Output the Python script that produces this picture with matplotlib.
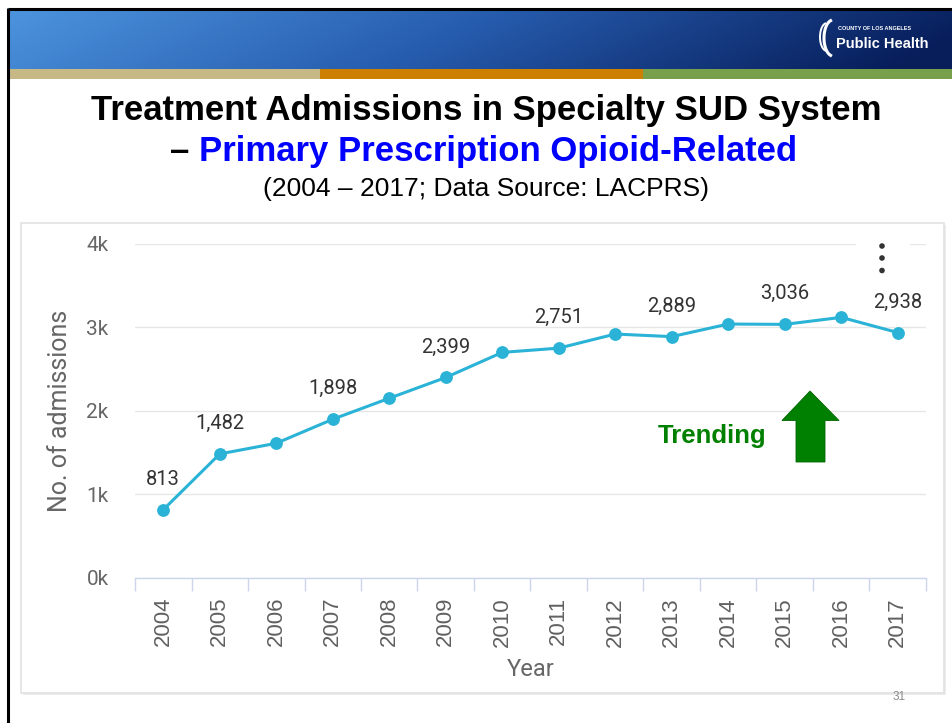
import numpy as np
import matplotlib
matplotlib.use("Agg")
import matplotlib.pyplot as plt
from matplotlib.patches import Rectangle, Polygon, Circle
from matplotlib.ticker import FixedLocator

# ---- data -------------------------------------------------------------
years = [2004, 2005, 2006, 2007, 2008, 2009, 2010,
         2011, 2012, 2013, 2014, 2015, 2016, 2017]
admissions = [813, 1482, 1610, 1898, 2150, 2399, 2700,
              2751, 2920, 2889, 3040, 3036, 3120, 2938]
labeled_years = [2004, 2005, 2007, 2009, 2011, 2013, 2015, 2017]
y_ticks = [0, 1000, 2000, 3000, 4000]
y_tick_labels = ["0k", "1k", "2k", "3k", "4k"]

title_line1 = "Treatment Admissions in Specialty SUD System"
title_dash = "\u2013 "
title_line2 = "Primary Prescription Opioid-Related"
subtitle = "(2004 \u2013 2017; Data Source: LACPRS)"

NARROW = ["Liberation Sans Narrow", "Liberation Sans", "DejaVu Sans"]

W, H = 953, 723
fig = plt.figure(figsize=(W / 100, H / 100), dpi=100)

# background canvas in pixel coordinates
bg = fig.add_axes([0, 0, 1, 1])
bg.set_xlim(0, W)
bg.set_ylim(H, 0)
bg.axis("off")

# header gradient band
gw, gh = 400, 40
gx = np.linspace(0, 1, gw)[None, :]
gy = np.linspace(0, 1, gh)[:, None]
c_left = np.array([0.30, 0.58, 0.87])
c_mid = np.array([0.15, 0.36, 0.68])
c_right = np.array([0.03, 0.12, 0.36])
t = np.clip(gx * 0.95 + gy * 0.12, 0, 1)
img = np.zeros((gh, gw, 3))
for k in range(3):
    img[..., k] = np.where(t < 0.5,
                           c_left[k] + (c_mid[k] - c_left[k]) * (t / 0.5),
                           c_mid[k] + (c_right[k] - c_mid[k]) * ((t - 0.5) / 0.5))
bg.imshow(img, extent=(9, W, 69, 9), aspect="auto", zorder=1)

# coloured stripes under the header
bg.add_patch(Rectangle((9, 69), 311, 10, color="#c6b985", lw=0, zorder=2))
bg.add_patch(Rectangle((320, 69), 323, 10, color="#cc7f00", lw=0, zorder=2))
bg.add_patch(Rectangle((643, 69), W - 643, 10, color="#78a04b", lw=0, zorder=2))

# slide border lines
bg.plot([8, W], [8.5, 8.5], color="black", lw=2.2, zorder=3, solid_capstyle="butt")
bg.plot([8.5, 8.5], [8, H], color="black", lw=2.2, zorder=3, solid_capstyle="butt")

# logo
th = np.linspace(-1.3, 1.3, 40)
bg.plot(833 - 9 * np.cos(th), 38 + 18 * np.sin(th), color="white", lw=2.2, zorder=4)
bg.plot(827 - 7 * np.cos(th), 37 + 14 * np.sin(th), color="white", lw=1.4, zorder=4)
bg.text(838, 28, "COUNTY OF LOS ANGELES", color="white", fontsize=4.0,
        fontweight="bold", family=NARROW, va="center", ha="left", zorder=4)
bg.text(836, 44, "Public Health", color="white", fontsize=10.5,
        fontweight="bold", family=NARROW, va="center", ha="left", zorder=4)

# titles
bg.text(486, 120, title_line1, fontsize=25, fontweight="bold",
        family="Liberation Sans", color="black", ha="center", va="baseline", zorder=4)
t_dash = bg.text(0, 161, title_dash, fontsize=25, fontweight="bold",
                 family="Liberation Sans", color="black", ha="left", va="baseline", zorder=4)
t_blue = bg.text(0, 161, title_line2, fontsize=25, fontweight="bold",
                 family="Liberation Sans", color="#0000ff", ha="left", va="baseline", zorder=4)
bg.text(486, 196, subtitle, fontsize=19, family="Liberation Sans",
        color="black", ha="center", va="baseline", zorder=4)

# centre the two-colour second title line
fig.canvas.draw()
r = fig.canvas.get_renderer()
wd = t_dash.get_window_extent(r).width
wb = t_blue.get_window_extent(r).width
x0 = 484 - (wd + wb) / 2
t_dash.set_x(x0)
t_blue.set_x(x0 + wd)

# chart panel with soft shadow
bg.add_patch(Rectangle((23, 225), 923, 470, facecolor="#ececec", lw=0, zorder=2))
bg.add_patch(Rectangle((21, 223), 923, 470, facecolor="white",
                       edgecolor="#e2e2e2", lw=1.2, zorder=2))

# slide number
bg.text(899, 697, "31", fontsize=8.5, color="#8a8a8a", family=NARROW,
        ha="center", va="center", zorder=4)

# ---- line chart -------------------------------------------------------
ax_l, ax_r, ax_t, ax_b = 135, 926, 244, 577.5
ax = fig.add_axes([ax_l / W, (H - ax_b) / H, (ax_r - ax_l) / W, (ax_b - ax_t) / H])
ax.set_facecolor("none")
x = np.arange(len(years))
ax.set_xlim(-0.5, len(years) - 0.5)
ax.set_ylim(0, 4000)

for s in ("top", "right", "left"):
    ax.spines[s].set_visible(False)
ax.spines["bottom"].set_color("#ccd6eb")
ax.spines["bottom"].set_linewidth(1.0)

ax.set_yticks(y_ticks)
ax.set_yticklabels(y_tick_labels, family="Roboto", fontsize=15, color="#666666")
ax.tick_params(axis="y", length=0, pad=19)
ax.yaxis.grid(True, color="#e6e6e6", lw=1.0)
ax.set_axisbelow(True)

ax.set_xticks(x)
ax.set_xticklabels([str(y) for y in years], rotation=90, family="Liberation Sans",
                   fontsize=16, color="#606060", va="top", ha="center")
ax.tick_params(axis="x", which="major", length=0, pad=14)
ax.xaxis.set_minor_locator(FixedLocator(np.arange(-0.5, len(years), 1.0)))
ax.tick_params(axis="x", which="minor", length=9.5, width=1.0, color="#ccd6eb", direction="out")

ax.set_ylabel("No. of admissions", family="Roboto", fontsize=18, color="#666666", labelpad=10)
ax.set_xlabel("Year", family="Roboto", fontsize=17, color="#666666", labelpad=8)

ax.plot(x, admissions, color="#2ab3d6", lw=2.2, marker="o", markersize=8.2,
        markerfacecolor="#2ab3d6", markeredgecolor="#2ab3d6", zorder=3, clip_on=False)

for xi, yr, val in zip(x, years, admissions):
    if yr in labeled_years:
        ax.annotate(f"{val:,}", (xi, val), xytext=(0, 22), textcoords="offset points",
                    ha="center", va="center", family="Roboto", fontsize=14.5,
                    color="#333333", zorder=4)

# context menu icon (cuts the top gridline)
ax.add_patch(Rectangle((856, 238), 54, 12, transform=bg.transData, facecolor="white",
                       lw=0, zorder=5, clip_on=False))
for dy in (246, 258, 270.5):
    ax.add_patch(Circle((882, dy), 2.8, transform=bg.transData, facecolor="#333333",
                        lw=0, zorder=6, clip_on=False))

# trend annotation
ax.text(712, 436, "Trending", transform=bg.transData, fontsize=18.5, fontweight="bold",
        family="Liberation Sans", color="#008000", ha="center", va="center", zorder=6)
ax.add_patch(Polygon([(810, 391), (839, 420.5), (825, 420.5), (825, 462), (796, 462),
                      (796, 420.5), (782, 420.5)], closed=True, transform=bg.transData,
                     facecolor="#008000", edgecolor="#006400", lw=0.6, zorder=6,
                     clip_on=False))

fig.savefig("out.png", dpi=100)
